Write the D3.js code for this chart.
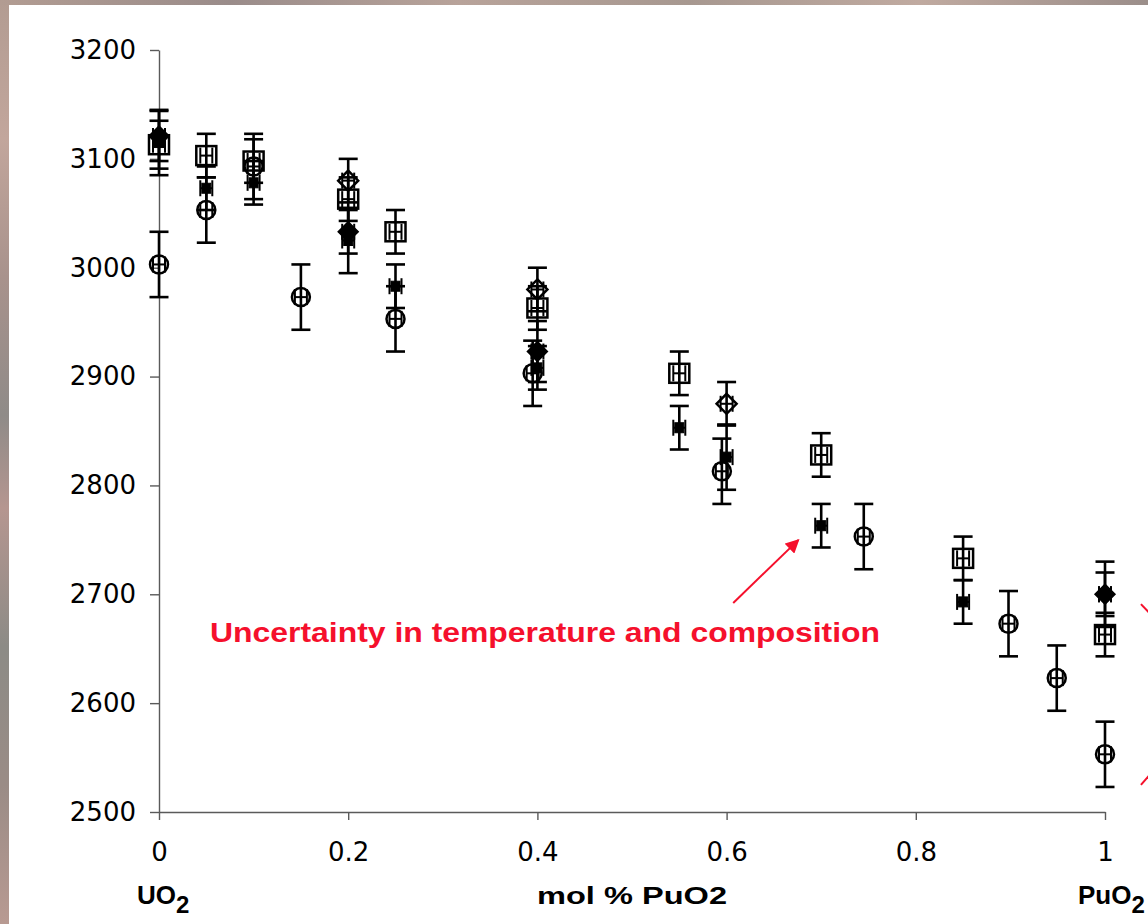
<!DOCTYPE html>
<html>
<head>
<meta charset="utf-8">
<script src="https://cdn.jsdelivr.net/npm/d3@7"></script>
<style>
  html, body { margin: 0; padding: 0; background: #a08e88; }
  svg { display: block; }
</style>
</head>
<body>
<svg id="chart" width="1148" height="924"></svg>
<script>
// ---------- data ----------
const xTicks = [0, 0.2, 0.4, 0.6, 0.8, 1];
const xTickLabels = ["0", "0.2", "0.4", "0.6", "0.8", "1"];
const yTicks = [2500, 2600, 2700, 2800, 2900, 3000, 3100, 3200];

// open circles
const circX   = [0, 0.05, 0.1, 0.15, 0.25, 0.395, 0.595, 0.745, 0.898, 0.949, 1.0];
const circY   = [3003, 3053, 3093, 2973, 2953, 2903, 2813, 2753, 2673, 2623, 2553];
const circErr = [30, 30, 30, 30, 30, 30, 30, 30, 30, 30, 30];

// open squares
const sqX   = [0, 0.05, 0.1, 0.2, 0.25, 0.4, 0.55, 0.7, 0.85, 1.0];
const sqY   = [3113, 3103, 3098, 3063, 3033, 2963, 2903, 2828, 2733, 2663];
const sqErr = [22, 20, 20, 20, 20, 20, 20, 20, 20, 20];

// small filled squares
const fsX   = [0, 0.05, 0.1, 0.2, 0.25, 0.4, 0.55, 0.6, 0.7, 0.85, 1.0];
const fsY   = [3115, 3073, 3078, 3025, 2983, 2908, 2853, 2826, 2763, 2693, 2700];
const fsErr = [30, 20, 20, 30, 20, 20, 20, 30, 20, 20, 20];

// open diamonds
const odX   = [0.2, 0.4, 0.6];
const odY   = [3080, 2980, 2875];
const odErr = [20, 20, 20];

// filled diamonds
const fdX   = [0, 0.2, 0.4, 1.0];
const fdY   = [3121, 3033, 2923, 2700];
const fdErr = [23, 20, 28, 30];

// annotation (data units)
const annText = "Uncertainty in temperature and composition";
const annTextPos = [0.054, 2656];
const annArrowFrom = [0.607, 2692];
const annArrowTo = [0.676, 2750];
const edgeLines = [[[1.038, 2691], [1.05, 2680]], [[1.038, 2525], [1.05, 2537]]];

// ---------- drawing ----------
const svg = d3.select("#chart");
const W = 1148, H = 924;

// textured-ish outer background
const defs = svg.append("defs");
const gL = defs.append("linearGradient").attr("id", "bgL").attr("x1", 0).attr("y1", 0).attr("x2", 0).attr("y2", 1);
[["0", "#b29c92"], ["0.15", "#c2a69c"], ["0.3", "#a8928c"], ["0.45", "#8f8b88"], ["0.55", "#b59690"],
 ["0.7", "#8c8b86"], ["0.85", "#9a8c86"], ["1", "#b89a92"]].forEach(s =>
  gL.append("stop").attr("offset", s[0]).attr("stop-color", s[1]));
const gT = defs.append("linearGradient").attr("id", "bgT").attr("x1", 0).attr("y1", 0).attr("x2", 1).attr("y2", 0);
[["0", "#b29c92"], ["0.2", "#9a8c8a"], ["0.4", "#b8a39a"], ["0.6", "#a79890"], ["0.8", "#c0aaa0"], ["1", "#9b8e8a"]].forEach(s =>
  gT.append("stop").attr("offset", s[0]).attr("stop-color", s[1]));
defs.append("marker").attr("id", "arrowHead").attr("viewBox", "0 0 10 10")
  .attr("refX", 9).attr("refY", 5).attr("markerWidth", 7).attr("markerHeight", 7)
  .attr("markerUnits", "strokeWidth").attr("orient", "auto")
  .append("path").attr("d", "M0,0 L10,5 L0,10 z").attr("fill", "#f5102c");

svg.append("rect").attr("x", 0).attr("y", 0).attr("width", W).attr("height", H).attr("fill", "url(#bgL)");
svg.append("rect").attr("x", 0).attr("y", 0).attr("width", W).attr("height", 5).attr("fill", "url(#bgT)");
svg.append("rect").attr("x", 9).attr("y", 5).attr("width", W - 9).attr("height", H - 5).attr("fill", "#ffffff");

const x = d3.scaleLinear().domain([0, 1]).range([159, 1105]);
const y = d3.scaleLinear().domain([2500, 3200]).range([812, 50]);

// axes
const yAxis = svg.append("g").attr("transform", `translate(${x(0)},0)`)
  .call(d3.axisLeft(y).tickValues(yTicks).tickFormat(d3.format("d")).tickSize(9).tickSizeOuter(0).tickPadding(14));
const xAxis = svg.append("g").attr("transform", `translate(0,${y(2500)})`)
  .call(d3.axisBottom(x).tickValues(xTicks).tickFormat((d, i) => xTickLabels[i]).tickSize(8).tickSizeOuter(0).tickPadding(23));
[yAxis, xAxis].forEach(a => {
  a.select(".domain").attr("stroke", "#5a5a5a").attr("stroke-width", 1.4);
  a.selectAll(".tick line").attr("stroke", "#5a5a5a").attr("stroke-width", 1.4);
  a.selectAll(".tick text").attr("fill", "#000").attr("font-family", "'DejaVu Sans', Verdana, sans-serif").attr("font-size", 26);
});

// series
function pts(xs, ys, es) { return xs.map((v, i) => ({ x: v, y: ys[i], e: es[i] })); }
const capHalf = 9.5, xErrHalf = 6, xCapHalf = 8;

function drawErrors(g, data) {
  const eg = g.append("g").attr("stroke", "#000").attr("stroke-width", 2.6).attr("fill", "none");
  data.forEach(d => {
    const cx = x(d.x), cy = y(d.y), y1 = y(d.y + d.e), y2 = y(d.y - d.e);
    eg.append("line").attr("x1", cx).attr("x2", cx).attr("y1", y1).attr("y2", y2);
    eg.append("line").attr("x1", cx - capHalf).attr("x2", cx + capHalf).attr("y1", y1).attr("y2", y1);
    eg.append("line").attr("x1", cx - capHalf).attr("x2", cx + capHalf).attr("y1", y2).attr("y2", y2);
    // composition (horizontal) error bar
    eg.append("line").attr("x1", cx - xErrHalf).attr("x2", cx + xErrHalf).attr("y1", cy).attr("y2", cy).attr("stroke-width", 2);
    eg.append("line").attr("x1", cx - xErrHalf).attr("x2", cx - xErrHalf).attr("y1", cy - xCapHalf).attr("y2", cy + xCapHalf).attr("stroke-width", 2);
    eg.append("line").attr("x1", cx + xErrHalf).attr("x2", cx + xErrHalf).attr("y1", cy - xCapHalf).attr("y2", cy + xCapHalf).attr("stroke-width", 2);
  });
}

function diamondPath(r) { return `M0,${-r} L${r},0 L0,${r} L${-r},0 Z`; }

function drawSeries(xs, ys, es, kind) {
  const data = pts(xs, ys, es);
  const g = svg.append("g");
  drawErrors(g, data);
  const m = g.selectAll(".m").data(data).enter();
  if (kind === "circle") {
    m.append("circle").attr("cx", d => x(d.x)).attr("cy", d => y(d.y)).attr("r", 9)
      .attr("fill", "none").attr("stroke", "#000").attr("stroke-width", 2.5);
  } else if (kind === "square") {
    m.append("rect").attr("x", d => x(d.x) - 10).attr("y", d => y(d.y) - 9.5).attr("width", 20).attr("height", 19)
      .attr("fill", "none").attr("stroke", "#000").attr("stroke-width", 2.5);
  } else if (kind === "fsquare") {
    m.append("rect").attr("x", d => x(d.x) - 4.5).attr("y", d => y(d.y) - 5).attr("width", 9).attr("height", 10)
      .attr("fill", "#000").attr("stroke", "#000").attr("stroke-width", 1);
  } else if (kind === "odiamond") {
    m.append("path").attr("transform", d => `translate(${x(d.x)},${y(d.y)})`).attr("d", diamondPath(10))
      .attr("fill", "none").attr("stroke", "#000").attr("stroke-width", 2.5);
  } else if (kind === "fdiamond") {
    m.append("path").attr("transform", d => `translate(${x(d.x)},${y(d.y)})`).attr("d", diamondPath(10))
      .attr("fill", "#000").attr("stroke", "#000").attr("stroke-width", 1.5);
  }
}

drawSeries(circX, circY, circErr, "circle");
drawSeries(sqX, sqY, sqErr, "square");
drawSeries(fsX, fsY, fsErr, "fsquare");
drawSeries(odX, odY, odErr, "odiamond");
drawSeries(fdX, fdY, fdErr, "fdiamond");

// annotation
const red = "#f5102c";
svg.append("text").attr("x", x(annTextPos[0])).attr("y", y(annTextPos[1]))
  .attr("font-family", "'Liberation Sans', Arial, sans-serif").attr("font-weight", "bold").attr("font-size", 28)
  .attr("fill", red).attr("textLength", 670).attr("lengthAdjust", "spacingAndGlyphs").text(annText);
svg.append("line").attr("x1", x(annArrowFrom[0])).attr("y1", y(annArrowFrom[1]))
  .attr("x2", x(annArrowTo[0])).attr("y2", y(annArrowTo[1]))
  .attr("stroke", red).attr("stroke-width", 2).attr("marker-end", "url(#arrowHead)");
edgeLines.forEach(l => svg.append("line").attr("x1", x(l[0][0])).attr("y1", y(l[0][1]))
  .attr("x2", x(l[1][0])).attr("y2", y(l[1][1])).attr("stroke", red).attr("stroke-width", 2));

// axis titles
const boldFont = "'Liberation Sans', Arial, sans-serif";
const t1 = svg.append("text").attr("x", 137).attr("y", 904).attr("font-family", boldFont)
  .attr("font-weight", "bold").attr("font-size", 26).attr("fill", "#000");
t1.append("tspan").text("UO");
t1.append("tspan").attr("font-size", 24).attr("dy", 9).text("2");

svg.append("text").attr("x", 537).attr("y", 904).attr("font-family", boldFont)
  .attr("font-weight", "bold").attr("font-size", 24).attr("fill", "#000")
  .attr("textLength", 190).attr("lengthAdjust", "spacingAndGlyphs").text("mol % PuO2");

const t3 = svg.append("text").attr("x", 1078).attr("y", 904).attr("font-family", boldFont)
  .attr("font-weight", "bold").attr("font-size", 26).attr("fill", "#000");
t3.append("tspan").text("PuO");
t3.append("tspan").attr("font-size", 24).attr("dy", 9).text("2");
</script>
</body>
</html>
